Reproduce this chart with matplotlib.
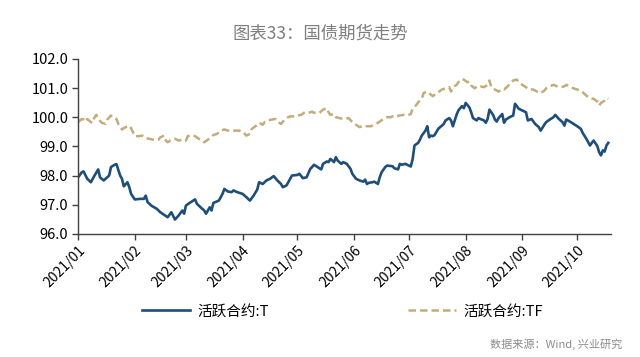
import matplotlib
matplotlib.use('Agg')
import matplotlib.pyplot as plt
import pandas as pd

plt.rcParams['font.family'] = ['Noto Sans CJK SC', 'DejaVu Sans']

# days counted from 2021-01-04
t_day = [0, 2, 3, 5, 7, 9, 11, 12, 14, 17, 18, 20, 21, 23, 24, 25, 27, 28, 29, 31,
         34, 36, 37, 38, 40, 43, 45, 48, 49, 51, 53, 55, 57, 58, 59, 61, 63, 64, 65, 67,
         69, 70, 72, 73, 74, 77, 79, 80, 82, 84, 85, 87, 90, 92, 94, 96, 98, 99, 101, 103,
         105, 107, 109, 111, 112, 114, 116, 117, 120, 121, 123, 125, 127, 128, 129, 131, 133, 134, 136, 137,
         138, 140, 141, 142, 144, 145, 147, 149, 150, 152, 154, 156, 157, 158, 159, 161, 162, 164, 165, 166,
         168, 169, 172, 173, 175, 176, 177, 179, 181, 182, 183, 184, 186, 187, 188, 190, 191, 192, 193, 194,
         195, 197, 198, 199, 200, 201, 203, 204, 205, 207, 208, 209, 210, 211, 212, 214, 215, 216, 218, 219,
         220, 222, 223, 224, 225, 227, 228, 229, 230, 232, 233, 234, 236, 238, 239, 240, 241, 243, 245, 246,
         248, 250, 252, 253, 255, 256, 258, 260, 261, 263, 265, 266, 267, 269, 271, 273, 275, 276, 278, 280,
         281, 282, 284, 285, 286, 287, 288, 289, 290]
t_val = [97.94, 98.11, 98.14, 97.89, 97.77, 98.00, 98.21, 97.94, 97.83, 98.00, 98.29, 98.37, 98.39, 98.00, 97.89, 97.63, 97.77, 97.60, 97.37, 97.18,
         97.20, 97.20, 97.31, 97.09, 96.97, 96.86, 96.74, 96.61, 96.57, 96.74, 96.49, 96.63, 96.80, 96.69, 96.97, 97.06, 97.14, 97.18, 97.03, 96.91,
         96.80, 96.69, 96.91, 96.80, 97.06, 97.14, 97.37, 97.54, 97.45, 97.43, 97.49, 97.43, 97.37, 97.26, 97.14, 97.31, 97.52, 97.77, 97.71, 97.83,
         97.89, 97.98, 97.83, 97.71, 97.60, 97.66, 97.89, 98.00, 98.02, 98.06, 97.91, 97.94, 98.23, 98.29, 98.37, 98.29, 98.21, 98.40, 98.48, 98.46,
         98.57, 98.46, 98.63, 98.51, 98.40, 98.46, 98.40, 98.23, 98.06, 97.89, 97.83, 97.79, 97.86, 97.71, 97.75, 97.77, 97.79, 97.71, 97.94, 98.11,
         98.29, 98.34, 98.32, 98.25, 98.21, 98.40, 98.37, 98.40, 98.34, 98.31, 98.57, 99.03, 99.12, 99.23, 99.37, 99.54, 99.69, 99.31, 99.37, 99.35,
         99.39, 99.60, 99.66, 99.71, 99.77, 99.89, 99.97, 99.89, 99.69, 100.08, 100.23, 100.31, 100.38, 100.31, 100.49, 100.34, 100.17, 99.97, 99.89, 99.97,
         99.94, 99.89, 99.81, 99.94, 100.26, 100.08, 99.92, 99.85, 99.97, 100.11, 99.81, 99.92, 100.00, 100.06, 100.46, 100.38, 100.29, 100.23, 100.17, 99.89,
         99.94, 99.77, 99.66, 99.54, 99.74, 99.83, 99.92, 100.00, 100.08, 99.94, 99.83, 99.71, 99.92, 99.85, 99.77, 99.69, 99.60, 99.46, 99.26, 99.03,
         99.12, 99.20, 99.01, 98.80, 98.69, 98.86, 98.82, 99.03, 99.12]

tf_day = [0, 2, 3, 4, 5, 7, 8, 9, 10, 11, 13, 15, 16, 18, 19, 21, 22, 23, 24, 26,
          28, 29, 30, 31, 33, 35, 37, 39, 41, 44, 45, 47, 48, 49, 51, 53, 55, 57, 59, 60,
          62, 64, 66, 68, 69, 71, 74, 76, 78, 80, 82, 85, 88, 90, 92, 94, 95, 97, 99, 101,
          102, 104, 106, 108, 109, 111, 112, 114, 116, 118, 120, 122, 124, 126, 128, 129, 131, 132, 134, 136,
          137, 138, 140, 141, 143, 145, 148, 150, 152, 154, 156, 158, 160, 161, 163, 165, 167, 169, 171, 173,
          174, 176, 178, 180, 182, 183, 185, 186, 188, 189, 191, 193, 194, 195, 197, 199, 201, 203, 204, 205,
          207, 208, 210, 211, 213, 214, 215, 217, 218, 220, 222, 224, 225, 226, 228, 230, 232, 233, 235, 236,
          238, 240, 241, 243, 245, 247, 249, 251, 253, 255, 256, 258, 260, 262, 264, 266, 267, 269, 271, 273,
          275, 276, 278, 280, 282, 284, 285, 286, 288, 289, 290]
tf_val = [99.83, 99.94, 99.92, 99.85, 99.94, 99.83, 99.81, 100.00, 100.08, 99.94, 99.81, 99.77, 99.92, 100.06, 100.00, 99.94, 99.77, 99.66, 99.58, 99.66,
          99.71, 99.62, 99.49, 99.35, 99.35, 99.37, 99.28, 99.26, 99.23, 99.23, 99.31, 99.37, 99.20, 99.14, 99.23, 99.26, 99.20, 99.23, 99.20, 99.35,
          99.39, 99.35, 99.26, 99.20, 99.14, 99.23, 99.39, 99.43, 99.54, 99.58, 99.54, 99.54, 99.54, 99.51, 99.37, 99.43, 99.60, 99.69, 99.81, 99.74,
          99.83, 99.89, 99.92, 99.94, 99.85, 99.77, 99.85, 99.97, 100.03, 100.03, 100.06, 100.08, 100.17, 100.15, 100.19, 100.15, 100.17, 100.15, 100.26, 100.31,
          100.17, 100.08, 100.11, 100.00, 99.97, 99.94, 99.97, 99.83, 99.74, 99.66, 99.71, 99.69, 99.69, 99.71, 99.77, 99.85, 99.94, 100.00, 100.00, 100.06,
          100.03, 100.06, 100.08, 100.06, 100.11, 100.29, 100.42, 100.51, 100.63, 100.83, 100.88, 100.77, 100.72, 100.77, 100.86, 100.95, 100.99, 101.03, 100.88, 101.03,
          101.11, 101.20, 101.31, 101.29, 101.20, 101.22, 101.09, 100.99, 101.06, 101.06, 101.03, 101.11, 101.26, 101.03, 100.95, 100.88, 100.97, 100.95, 101.06, 101.14,
          101.26, 101.29, 101.20, 101.11, 101.03, 100.95, 100.95, 100.88, 100.83, 100.91, 100.99, 101.06, 101.11, 101.06, 101.03, 101.06, 101.11, 101.06, 100.99, 100.95,
          100.91, 100.86, 100.74, 100.65, 100.63, 100.54, 100.40, 100.49, 100.57, 100.65, 100.63]

tick_labels = ['2021/01', '2021/02', '2021/03', '2021/04', '2021/05',
               '2021/06', '2021/07', '2021/08', '2021/09', '2021/10']

start = pd.Timestamp('2021-01-04')
t_dates = start + pd.to_timedelta(t_day, unit='D')
tf_dates = start + pd.to_timedelta(tf_day, unit='D')
tick_dates = [start + pd.DateOffset(months=i) for i in range(len(tick_labels))]

fig = plt.figure(figsize=(6.4, 3.57), dpi=100)
ax = fig.add_axes([0.122, 0.345, 0.833, 0.49])

ax.plot(t_dates, t_val, color='#1f4e79', lw=1.9, label='活跃合约:T')
ax.plot(tf_dates, tf_val, color='#c4ab7c', lw=1.8, ls=(0, (3, 1.6)), label='活跃合约:TF')

ax.set_ylim(96, 102)
ax.set_yticks([96, 97, 98, 99, 100, 101, 102])
ax.set_yticklabels(['%.1f' % v for v in [96, 97, 98, 99, 100, 101, 102]], fontsize=10.5)
ax.set_xlim(start, start + pd.Timedelta(days=291.6))
ax.set_xticks(tick_dates)
ax.set_xticklabels(tick_labels, rotation=45, ha='right', rotation_mode='anchor', fontsize=10)

for s in ['top', 'right']:
    ax.spines[s].set_visible(False)
for s in ['left', 'bottom']:
    ax.spines[s].set_color('#404040')
    ax.spines[s].set_linewidth(1.0)
ax.tick_params(direction='out', length=4, width=1, color='#404040', pad=3)

fig.text(0.5, 0.905, '图表33：国债期货走势', ha='center', va='center', fontsize=12.5, color='#7f7f7f')
fig.legend(loc='center', bbox_to_anchor=(0.535, 0.128), ncol=2, frameon=False, fontsize=10.5,
           handlelength=3.3, columnspacing=9.5, handletextpad=0.5)
fig.text(0.972, 0.035, '数据来源：Wind, 兴业研究', ha='right', va='center', fontsize=8, color='#8c8c8c')

fig.savefig('out.png', dpi=100)
